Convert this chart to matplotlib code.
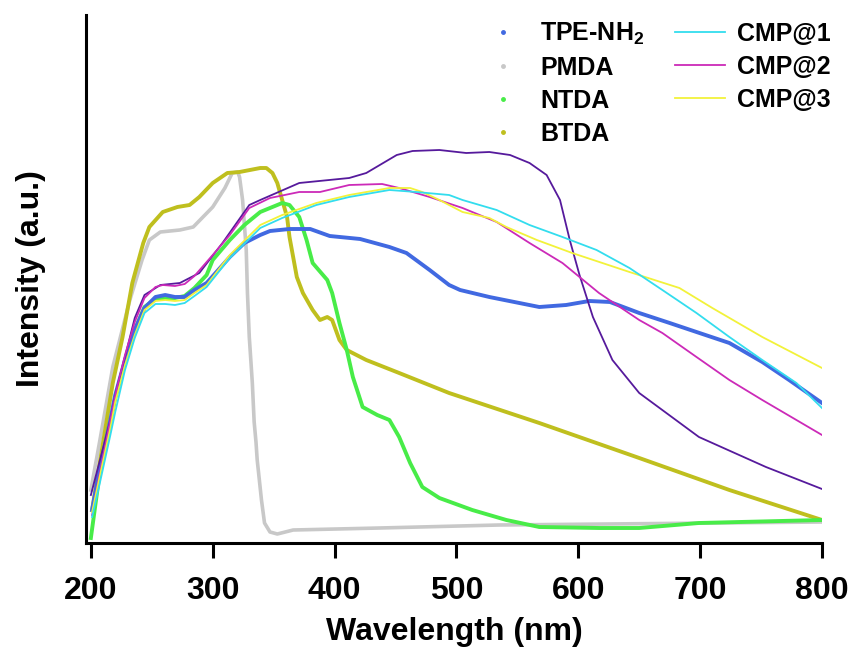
import matplotlib
matplotlib.use('Agg')
import matplotlib.pyplot as plt
from matplotlib.lines import Line2D

plt.rcParams['font.family'] = ['Liberation Sans', 'DejaVu Sans']
plt.rcParams['font.weight'] = 'bold'
plt.rcParams['mathtext.fontset'] = 'custom'
plt.rcParams['mathtext.rm'] = 'Liberation Sans:bold'
plt.rcParams['mathtext.it'] = 'Liberation Sans:bold'
plt.rcParams['mathtext.bf'] = 'Liberation Sans:bold'

# wavelength (nm) / intensity (a.u.)
tpe_x = [201, 207, 216, 220, 228, 236, 244, 253, 261, 269, 277, 285, 295, 314, 326, 339, 347, 363, 380,
         396, 421, 445, 459, 478, 494, 503, 527, 568, 590, 609, 626, 650, 675, 697, 724, 751, 773, 800]
tpe_y = [0.33, 0.73, 1.23, 1.48, 1.83, 2.13, 2.35, 2.46, 2.48, 2.46, 2.46, 2.53, 2.60, 2.86, 3.00, 3.08, 3.12,
         3.14, 3.14, 3.07, 3.04, 2.96, 2.90, 2.73, 2.58, 2.53, 2.46, 2.36, 2.38, 2.42, 2.41, 2.30, 2.20, 2.11,
         2.00, 1.81, 1.63, 1.40]

pmda_x = [200, 207, 218, 232, 242, 248, 257, 273, 284, 300, 310, 316, 320.5, 322, 324.5, 327.5, 328.5, 330,
          332.5, 334, 335.5, 336.5, 338, 340, 342.5, 347, 353, 366, 437, 535, 800]
pmda_y = [0.53, 1.00, 1.76, 2.43, 2.83, 3.03, 3.11, 3.13, 3.16, 3.36, 3.55, 3.70, 3.71, 3.66, 3.43, 2.93, 2.50,
          2.06, 1.60, 1.21, 1.01, 0.83, 0.66, 0.43, 0.20, 0.11, 0.09, 0.13, 0.15, 0.18, 0.21]

ntda_x = [200, 202, 207, 216, 220, 228, 236, 244, 253, 261, 269, 277, 285, 295, 300, 314, 326, 339, 357, 363,
          371, 377, 382, 394, 398, 404, 410, 415, 423, 435, 445, 453, 462, 472, 486, 513, 541, 568, 617, 650,
          699, 800]
ntda_y = [0.05, 0.23, 0.68, 1.21, 1.45, 1.81, 2.13, 2.36, 2.44, 2.45, 2.45, 2.47, 2.55, 2.68, 2.83, 3.03, 3.18,
          3.31, 3.40, 3.38, 3.26, 3.03, 2.80, 2.63, 2.50, 2.20, 1.93, 1.66, 1.36, 1.28, 1.23, 1.06, 0.80, 0.56,
          0.45, 0.33, 0.23, 0.16, 0.15, 0.15, 0.20, 0.23]

btda_x = [201, 207, 218, 226, 234, 243, 248, 259, 271, 281, 289, 300, 312, 322, 339, 344, 349, 353, 357, 361,
          363, 366, 369, 374, 382, 388, 394, 398, 404, 410, 426, 453, 494, 568, 650, 724, 800]
btda_y = [0.33, 0.78, 1.60, 2.06, 2.60, 3.00, 3.16, 3.31, 3.36, 3.38, 3.46, 3.60, 3.70, 3.71, 3.75, 3.75, 3.70,
          3.60, 3.43, 3.26, 3.06, 2.86, 2.66, 2.50, 2.33, 2.23, 2.26, 2.23, 2.03, 1.93, 1.83, 1.70, 1.50, 1.20,
          0.85, 0.53, 0.23]

cmp1_x = [201, 207, 216, 220, 228, 236, 244, 253, 261, 269, 277, 285, 295, 314, 339, 357, 385, 412, 445, 467,
          494, 505, 533, 560, 587, 615, 642, 669, 697, 724, 751, 779, 800]
cmp1_y = [0.26, 0.58, 1.08, 1.31, 1.73, 2.05, 2.30, 2.39, 2.39, 2.38, 2.40, 2.47, 2.56, 2.85, 3.15, 3.25, 3.38,
          3.46, 3.53, 3.51, 3.48, 3.43, 3.33, 3.18, 3.06, 2.93, 2.75, 2.53, 2.30, 2.06, 1.83, 1.60, 1.35]

cmp2_x = [201, 207, 216, 221, 228, 236, 244, 253, 259, 269, 277, 285, 300, 314, 330, 347, 371, 388, 412, 439,
          453, 478, 505, 533, 560, 587, 617, 650, 669, 697, 724, 751, 779, 800]
cmp2_y = [0.28, 0.68, 1.23, 1.53, 1.88, 2.21, 2.45, 2.56, 2.58, 2.57, 2.59, 2.67, 2.88, 3.08, 3.35, 3.45, 3.51,
          3.51, 3.58, 3.59, 3.55, 3.46, 3.35, 3.21, 3.00, 2.80, 2.50, 2.23, 2.10, 1.86, 1.63, 1.43, 1.23, 1.08]

cmp3_x = [201, 207, 216, 220, 228, 236, 244, 253, 261, 269, 277, 285, 295, 314, 339, 357, 385, 412, 445, 462,
          472, 486, 505, 527, 541, 566, 595, 642, 683, 710, 751, 800]
cmp3_y = [0.31, 0.65, 1.15, 1.41, 1.78, 2.08, 2.33, 2.42, 2.43, 2.42, 2.43, 2.50, 2.58, 2.88, 3.18, 3.28, 3.40,
          3.48, 3.55, 3.55, 3.51, 3.43, 3.31, 3.25, 3.16, 3.03, 2.90, 2.71, 2.55, 2.35, 2.06, 1.75]

# unlabelled purple curve
cmp0_x = [200, 207, 216, 221, 228, 236, 244, 257, 273, 289, 308, 330, 339, 371, 412, 426, 451, 464, 486, 508,
          527, 544, 560, 574, 585, 593, 601, 612, 628, 650, 699, 754, 800]
cmp0_y = [0.48, 0.81, 1.23, 1.53, 1.86, 2.25, 2.48, 2.58, 2.60, 2.70, 3.00, 3.38, 3.43, 3.60, 3.65, 3.70, 3.88,
          3.92, 3.93, 3.90, 3.91, 3.88, 3.80, 3.68, 3.43, 3.03, 2.68, 2.26, 1.83, 1.50, 1.06, 0.76, 0.54]

c_tpe = '#4169E1'
c_pmda = '#C8C8C8'
c_ntda = '#48EC48'
c_btda = '#BFBF1E'
c_cmp1 = '#33DDEE'
c_cmp2 = '#CC2AB8'
c_cmp3 = '#F2F23A'
c_cmp0 = '#561A9C'

fig = plt.figure(figsize=(8.53, 6.53), dpi=100)
ax = fig.add_axes([86 / 853, 110 / 653, 736 / 853, 528 / 653])

ax.plot(pmda_x, pmda_y, color=c_pmda, lw=2.6)
ax.plot(btda_x, btda_y, color=c_btda, lw=2.8)
ax.plot(ntda_x, ntda_y, color=c_ntda, lw=2.8)
ax.plot(tpe_x, tpe_y, color=c_tpe, lw=2.8)
ax.plot(cmp0_x, cmp0_y, color=c_cmp0, lw=1.3)
ax.plot(cmp2_x, cmp2_y, color=c_cmp2, lw=1.3)
ax.plot(cmp3_x, cmp3_y, color=c_cmp3, lw=1.3)
ax.plot(cmp1_x, cmp1_y, color=c_cmp1, lw=1.3)

ax.set_xlim(196, 800)
ax.set_ylim(0, 5.28)
ax.set_xticks([200, 300, 400, 500, 600, 700, 800])
ax.set_yticks([])
for s in ['top', 'right']:
    ax.spines[s].set_visible(False)
for s in ['left', 'bottom']:
    ax.spines[s].set_linewidth(2.2)
ax.tick_params(axis='x', direction='out', length=11, width=2.2, pad=13, labelsize=23)
ax.set_xlabel('Wavelength (nm)', fontsize=23, fontweight='bold', labelpad=8)
ax.set_ylabel('Intensity (a.u.)', fontsize=23, fontweight='bold', labelpad=29)

handles = [
    Line2D([], [], ls='none', marker='o', ms=2.5, color=c_tpe),
    Line2D([], [], ls='none', marker='o', ms=2.5, color=c_pmda),
    Line2D([], [], ls='none', marker='o', ms=2.5, color=c_ntda),
    Line2D([], [], ls='none', marker='o', ms=2.5, color=c_btda),
    Line2D([], [], color=c_cmp1, lw=1.3),
    Line2D([], [], color=c_cmp2, lw=1.3),
    Line2D([], [], color=c_cmp3, lw=1.3),
]
labels = ['TPE-NH$_2$', 'PMDA', 'NTDA', 'BTDA', 'CMP@1', 'CMP@2', 'CMP@3']
fig.legend(handles, labels, ncol=2, loc='upper left', bbox_to_anchor=(478 / 853, 1 - 21 / 653),
           frameon=False, fontsize=18, handlelength=2.0, handletextpad=0.5, columnspacing=1.2,
           labelspacing=0.36, borderpad=0, borderaxespad=0)

fig.savefig('out.png', dpi=100)
